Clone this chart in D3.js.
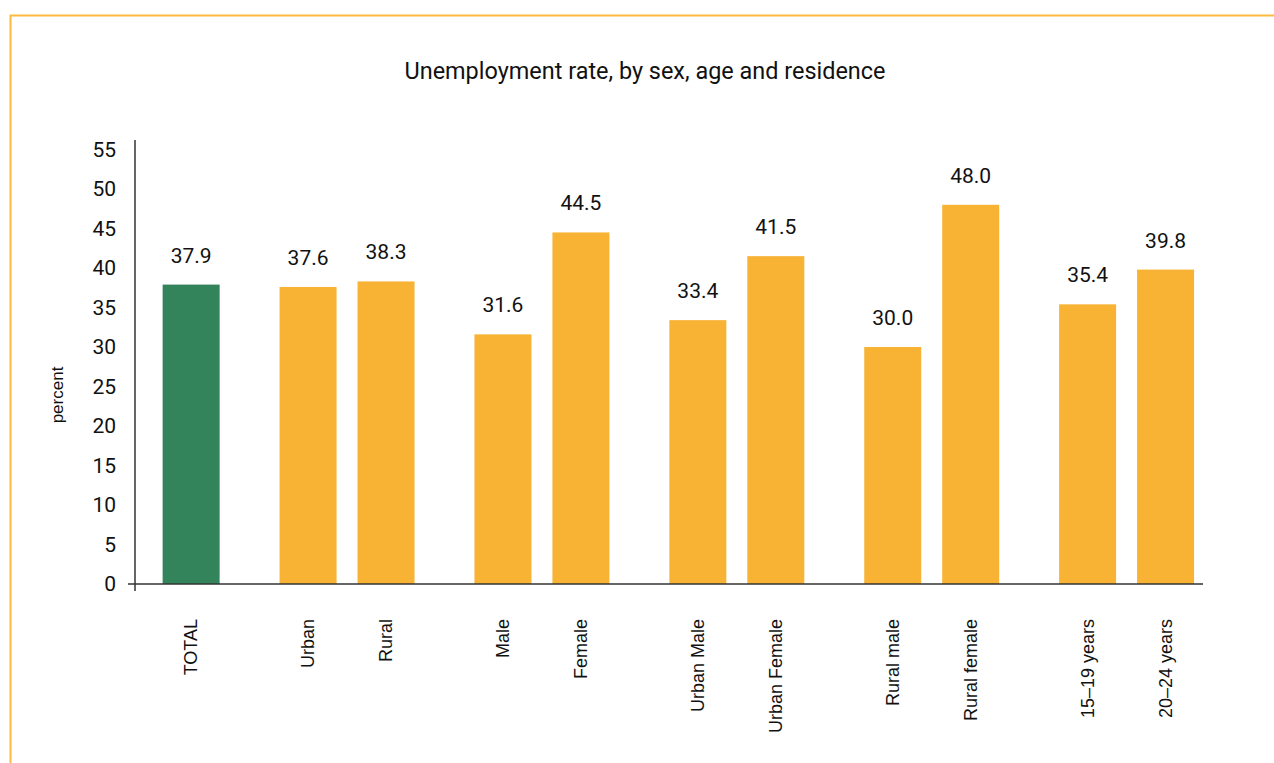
<!DOCTYPE html>
<html>
<head>
<meta charset="utf-8">
<script src="https://cdn.jsdelivr.net/npm/d3@7"></script>
<style>
  body { margin: 0; background: #fff; }
  svg { display: block; }
</style>
</head>
<body>
<div id="chart"></div>
<script>
// data
const categories = ["TOTAL", "Urban", "Rural", "Male", "Female", "Urban Male", "Urban Female",
                    "Rural male", "Rural female", "15\u201319 years", "20\u201324 years"];
const values = [37.9, 37.6, 38.3, 31.6, 44.5, 33.4, 41.5, 30.0, 48.0, 35.4, 39.8];
// which group each bar belongs to (groups get a wider gap between them)
const groupOf = [0, 1, 1, 2, 2, 3, 3, 4, 4, 5, 5];
const yTicks = [0, 5, 10, 15, 20, 25, 30, 35, 40, 45, 50, 55];

const W = 1274, H = 763;
const plot = {left: 135, right: 1203, top: 140, zero: 584};

const svg = d3.select("#chart")
    .append("svg")
    .attr("width", W)
    .attr("height", H);

// frame: only top and left edges are visible in the picture
svg.append("path")
    .attr("d", `M10.5,${H} L10.5,15.5 L${W},15.5`)
    .attr("fill", "none")
    .attr("stroke", "#FDBA40")
    .attr("stroke-width", 2);

// title
svg.append("text")
    .attr("x", 645)
    .attr("y", 79)
    .attr("text-anchor", "middle")
    .attr("textLength", 481)
    .attr("lengthAdjust", "spacingAndGlyphs")
    .style("font-family", "Roboto")
    .style("font-size", "23px")
    .style("fill", "#111")
    .text("Unemployment rate, by sex, age and residence");

// x position in "slot" units: step 1 inside a group, 1.5 between groups
const slot = [];
categories.forEach((c, i) => {
    if (i === 0) slot.push(0);
    else slot.push(slot[i - 1] + (groupOf[i] === groupOf[i - 1] ? 1 : 1.5));
});

const x = d3.scaleLinear()
    .domain([-0.72, 12.98])
    .range([plot.left, plot.right]);
const barW = 57;

const y = d3.scaleLinear()
    .domain([0, 55])
    .range([plot.zero, 149.5]);

// y tick labels
svg.append("g")
    .selectAll("text")
    .data(yTicks)
    .join("text")
    .attr("x", 116)
    .attr("y", d => y(d))
    .attr("dy", "0.35em")
    .attr("text-anchor", "end")
    .style("font-family", "Roboto")
    .style("font-size", "21px")
    .style("fill", "#111")
    .text(d => d);

// y axis title
svg.append("text")
    .attr("transform", "translate(63,395) rotate(-90)")
    .attr("text-anchor", "middle")
    .style("font-family", "Liberation Sans, Arial")
    .style("font-size", "17px")
    .style("fill", "#111")
    .text("percent");

// bars
svg.append("g")
    .selectAll("rect")
    .data(values)
    .join("rect")
    .attr("x", (d, i) => x(slot[i]) - barW / 2)
    .attr("y", d => y(d))
    .attr("width", barW)
    .attr("height", d => y(0) - y(d))
    .attr("fill", (d, i) => i === 0 ? "#33845B" : "#F8B334");

// value labels
svg.append("g")
    .selectAll("text")
    .data(values)
    .join("text")
    .attr("x", (d, i) => x(slot[i]))
    .attr("y", d => y(d) - 22)
    .attr("text-anchor", "middle")
    .style("font-family", "Roboto")
    .style("font-size", "21px")
    .style("fill", "#111")
    .text(d => d3.format(".1f")(d));

// axes lines
svg.append("line")
    .attr("x1", plot.left).attr("x2", plot.left)
    .attr("y1", plot.top).attr("y2", 591)
    .attr("stroke", "#333").attr("stroke-width", 1.5);
svg.append("line")
    .attr("x1", 128).attr("x2", plot.right)
    .attr("y1", plot.zero).attr("y2", plot.zero)
    .attr("stroke", "#333").attr("stroke-width", 1.5);

// category labels, rotated
svg.append("g")
    .selectAll("text")
    .data(categories)
    .join("text")
    .attr("transform", (d, i) => `translate(${x(slot[i]) + 6},619) rotate(-90)`)
    .attr("text-anchor", "end")
    .style("font-family", "Liberation Sans, Arial")
    .style("font-size", "18px")
    .style("fill", "#111")
    .text(d => d);
</script>
</body>
</html>
